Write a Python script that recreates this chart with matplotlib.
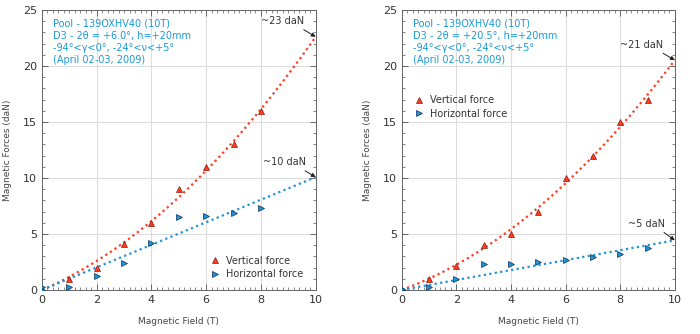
import numpy as np
import matplotlib.pyplot as plt
from matplotlib.ticker import MultipleLocator

# Left panel: D3 - 2theta = +6.0 deg
field_left = [0, 0, 1, 2, 3, 4, 5, 6, 7, 8]
vert_left = [0.0, 0.0, 1.0, 2.0, 4.1, 6.0, 9.0, 11.0, 13.0, 16.0]
horiz_left = [0.0, 0.3, 0.3, 1.2, 2.4, 4.2, 6.5, 6.6, 6.9, 7.3]

# Right panel: D3 - 2theta = +20.5 deg
field_right = [0, 0, 1, 2, 3, 4, 5, 6, 7, 8, 9]
vert_right = [0.0, 0.0, 1.0, 2.1, 4.0, 5.0, 7.0, 10.0, 12.0, 15.0, 17.0]
horiz_right = [0.0, 0.1, 0.3, 1.0, 2.3, 2.3, 2.5, 2.7, 2.9, 3.2, 3.7]

titles = [
    "Pool - 139OXHV40 (10T)\nD3 - 2θ = +6.0°, h=+20mm\n-94°<γ<0°, -24°<ν<+5°\n(April 02-03, 2009)",
    "Pool - 139OXHV40 (10T)\nD3 - 2θ = +20.5°, h=+20mm\n-94°<γ<0°, -24°<ν<+5°\n(April 02-03, 2009)",
]
vert_labels = ["~23 daN", "~21 daN"]
horiz_labels = ["~10 daN", "~5 daN"]

RED = "#ff3c1e"
BLUE = "#1f93d8"
TXT = "#1a9ad6"


def fit_origin(x, y, deg):
    # least squares fit through the origin
    x = np.asarray(x, float)
    A = np.column_stack([x ** k for k in range(1, deg + 1)])
    c, *_ = np.linalg.lstsq(A, np.asarray(y, float), rcond=None)
    return lambda t: sum(c[k] * t ** (k + 1) for k in range(deg))


fig = plt.figure(figsize=(7, 3.34), dpi=100)
ax1 = fig.add_axes([0.06, 0.132, 0.391, 0.838])
ax2 = fig.add_axes([0.574, 0.132, 0.39, 0.838])

panels = [
    (ax1, field_left, vert_left, horiz_left, "lower right", (8.8, 24.0), (8.85, 11.4)),
    (ax2, field_right, vert_right, horiz_right, "upper left", (8.8, 21.9), (8.95, 5.9)),
]

t = np.linspace(0, 10, 200)
for i, (ax, x, v, h, loc, vpos, hpos) in enumerate(panels):
    fv = fit_origin(x, v, 2)
    fh = fit_origin(x, h, 1)
    ax.plot(t, fv(t), color=RED, ls=(0, (1, 1.5)), lw=1.6, zorder=2)
    ax.plot(t, fh(t), color=BLUE, ls=(0, (1, 1.5)), lw=1.6, zorder=2)
    ax.plot(x, v, "^", color=RED, mec="#8a1a10", mew=0.5, ms=4.2, ls="none",
            label="Vertical force", zorder=3)
    ax.plot(x, h, ">", color=BLUE, mec="#0b2f55", mew=0.5, ms=4.2, ls="none",
            label="Horizontal force", zorder=3)

    arrow = dict(arrowstyle="-|>", color="#222222", lw=0.7, mutation_scale=6,
                 shrinkA=1, shrinkB=0, relpos=(0.85, 0.0))
    ax.annotate(vert_labels[i], xy=(10, fv(10)), xytext=vpos, fontsize=7,
                color="#333333", ha="center", va="center", arrowprops=arrow)
    ax.annotate(horiz_labels[i], xy=(10, fh(10)), xytext=hpos, fontsize=7,
                color="#333333", ha="center", va="center", arrowprops=arrow)

    ax.text(0.4, 24.2, titles[i], color=TXT, fontsize=7, va="top", ha="left",
            linespacing=1.25)

    ax.set_xlim(0, 10)
    ax.set_ylim(0, 25)
    ax.xaxis.set_major_locator(MultipleLocator(2))
    ax.xaxis.set_minor_locator(MultipleLocator(0.2))
    ax.yaxis.set_major_locator(MultipleLocator(5))
    ax.yaxis.set_minor_locator(MultipleLocator(1))
    ax.tick_params(which="both", direction="in", top=True, right=True,
                   color="#555555", labelsize=8, labelcolor="#333333")
    ax.tick_params(which="major", length=4, width=0.6)
    ax.tick_params(which="minor", length=2, width=0.5)
    ax.grid(True, which="major", color="#dddddd", lw=0.8)
    ax.set_axisbelow(True)
    for s in ax.spines.values():
        s.set_color("#666666")
        s.set_linewidth(0.7)
    ax.set_xlabel("Magnetic Field (T)", fontsize=6.5, color="#444444", labelpad=9)
    ax.set_ylabel("Magnetic Forces (daN)", fontsize=6.5, color="#444444", labelpad=8)

    if loc == "lower right":
        leg = ax.legend(loc="lower right", bbox_to_anchor=(0.98, 0.015), fontsize=7,
                        frameon=False, handletextpad=0.6, borderpad=0.2,
                        handlelength=1.0, labelspacing=0.35)
    else:
        leg = ax.legend(loc="upper left", bbox_to_anchor=(0.02, 0.72), fontsize=7,
                        frameon=False, handletextpad=0.6, borderpad=0.2,
                        handlelength=1.0, labelspacing=0.35)
    for txt in leg.get_texts():
        txt.set_color("#333333")

fig.savefig("out.png", dpi=100)
